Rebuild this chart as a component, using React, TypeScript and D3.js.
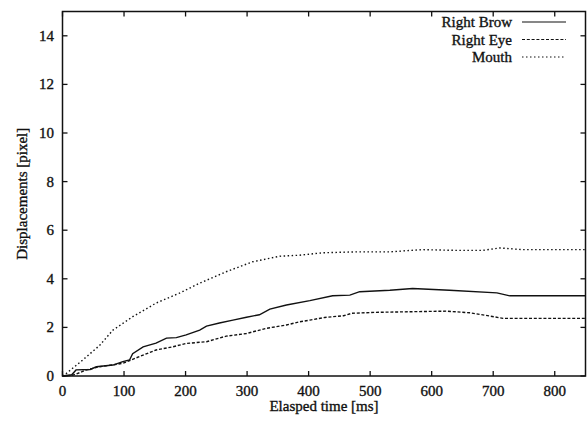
import React, { useEffect, useRef } from "react";
import * as d3 from "d3";

// values (time in ms, displacement in px)
const browTime = [0, 15, 22, 45, 55, 82, 98, 109, 114, 131, 152, 169, 185, 201, 223, 234, 255, 277, 299, 320, 337, 364, 402, 439, 467, 483, 532, 569, 629, 706, 727, 850];
const browVals = [0, 0.05, 0.25, 0.27, 0.38, 0.45, 0.59, 0.66, 0.92, 1.2, 1.35, 1.56, 1.58, 1.69, 1.89, 2.05, 2.18, 2.3, 2.42, 2.52, 2.75, 2.92, 3.1, 3.3, 3.33, 3.47, 3.53, 3.6, 3.53, 3.42, 3.3, 3.3];

const eyeTime = [0, 15, 22, 39, 60, 98, 125, 152, 179, 201, 234, 266, 299, 331, 364, 385, 402, 426, 457, 470, 509, 624, 662, 694, 716, 850];
const eyeVals = [0, 0.02, 0.08, 0.25, 0.38, 0.52, 0.8, 1.07, 1.2, 1.34, 1.41, 1.64, 1.75, 1.96, 2.1, 2.23, 2.3, 2.41, 2.48, 2.58, 2.62, 2.67, 2.6, 2.47, 2.37, 2.37];

const mouthTime = [0, 6, 33, 60, 82, 114, 152, 190, 223, 266, 309, 353, 385, 423, 478, 532, 585, 640, 683, 711, 748, 850];
const mouthVals = [0, 0.1, 0.66, 1.25, 1.89, 2.44, 3.0, 3.41, 3.82, 4.29, 4.7, 4.93, 4.97, 5.07, 5.11, 5.11, 5.2, 5.17, 5.17, 5.27, 5.2, 5.2];

const seriesNames = ["Right Brow", "Right Eye", "Mouth"];
const dashes = ["none", "3,1.8", "1.5,2.5"];

const xTicks = [0, 100, 200, 300, 400, 500, 600, 700, 800];
const yTicks = [0, 2, 4, 6, 8, 10, 12, 14];

export default function App() {
  const ref = useRef<SVGSVGElement>(null);

  useEffect(() => {
    const svg = d3.select(ref.current);
    svg.selectAll("*").remove();

    const left = 62.5, right = 585.5, top = 11.5, bottom = 376;
    const x = d3.scaleLinear().domain([0, 850]).range([left, right]);
    const y = d3.scaleLinear().domain([0, 15]).range([bottom, top]);
    const font = "'Liberation Serif', 'Times New Roman', serif";
    const ink = "#111";
    const fs = 15;

    const label = (sel: d3.Selection<SVGTextElement, unknown, null, undefined>) =>
      sel.attr("font-family", font).attr("font-size", fs).attr("fill", ink)
        .attr("stroke", ink).attr("stroke-width", 0.35);

    // frame
    svg.append("rect")
      .attr("x", left).attr("y", top)
      .attr("width", right - left).attr("height", bottom - top)
      .attr("fill", "none").attr("stroke", ink).attr("stroke-width", 1.5);

    // inward ticks, mirrored on top and right
    const tl = 5;
    xTicks.forEach(t => {
      svg.append("line").attr("x1", x(t)).attr("x2", x(t)).attr("y1", bottom).attr("y2", bottom - tl).attr("stroke", ink).attr("stroke-width", 1.3);
      svg.append("line").attr("x1", x(t)).attr("x2", x(t)).attr("y1", top).attr("y2", top + tl).attr("stroke", ink).attr("stroke-width", 1.3);
      label(svg.append("text").attr("x", x(t)).attr("y", 396).attr("text-anchor", "middle")).text(t);
    });
    yTicks.forEach(t => {
      svg.append("line").attr("x1", left).attr("x2", left + tl).attr("y1", y(t)).attr("y2", y(t)).attr("stroke", ink).attr("stroke-width", 1.3);
      svg.append("line").attr("x1", right).attr("x2", right - tl).attr("y1", y(t)).attr("y2", y(t)).attr("stroke", ink).attr("stroke-width", 1.3);
      label(svg.append("text").attr("x", 54).attr("y", y(t) + 5).attr("text-anchor", "end")).text(t);
    });

    label(svg.append("text").attr("x", (left + right) / 2).attr("y", 411).attr("text-anchor", "middle"))
      .text("Elasped time [ms]");
    label(svg.append("text").attr("transform", `translate(27,${(top + bottom) / 2}) rotate(-90)`)
      .attr("text-anchor", "middle"))
      .text("Displacements [pixel]");

    const line = d3.line<[number, number]>().x(d => x(d[0])).y(d => y(d[1]));
    const data: [number, number][][] = [
      browTime.map((t, i) => [t, browVals[i]]),
      eyeTime.map((t, i) => [t, eyeVals[i]]),
      mouthTime.map((t, i) => [t, mouthVals[i]]),
    ];

    data.forEach((d, i) => {
      svg.append("path").datum(d)
        .attr("fill", "none").attr("stroke", ink).attr("stroke-width", 1.4)
        .attr("stroke-dasharray", dashes[i])
        .attr("d", line);
    });

    // legend
    seriesNames.forEach((name, i) => {
      const yy = 22 + i * 17.5;
      label(svg.append("text").attr("x", 512).attr("y", yy + 5).attr("text-anchor", "end")).text(name);
      svg.append("line").attr("x1", 522).attr("x2", 566).attr("y1", yy).attr("y2", yy)
        .attr("stroke", ink).attr("stroke-width", 1.2).attr("stroke-dasharray", dashes[i]);
    });
  }, []);

  return <svg ref={ref} width={588} height={423} style={{ display: "block", position: "absolute", left: 0, top: 0, background: "#fff" }} />;
}
